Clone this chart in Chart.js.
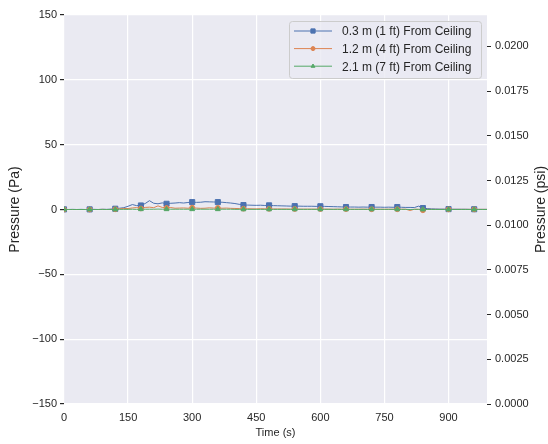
<!DOCTYPE html>
<html>
<head>
<meta charset="utf-8">
<script src="https://cdn.jsdelivr.net/npm/chart.js@4"></script>
<style>
body { margin: 0; background: #ffffff; }
#wrap { width: 548px; height: 444px; }
</style>
</head>
<body>
<div id="wrap"><canvas id="myChart"></canvas></div>
<script>
/* Data: time in s, pressure in Pa (10 s steps) */
var timeS = [0,10,20,30,40,50,60,70,80,90,100,110,120,130,140,150,160,170,180,190,
200,210,220,230,240,250,260,270,280,290,300,310,320,330,340,350,360,370,380,390,
400,410,420,430,440,450,460,470,480,490,500,510,520,530,540,550,560,570,580,590,
600,610,620,630,640,650,660,670,680,690,700,710,720,730,740,750,760,770,780,790,
800,810,820,830,840,850,860,870,880,890,900,910,920,930,940,950,960,970,980,990];

var p1ft = [0.1,0.0,0.1,0.0,0.1,0.0,0.1,0.1,0.0,0.2,0.1,0.3,0.6,1.0,1.4,2.5,3.8,3.0,3.1,4.6,
6.8,4.8,4.4,5.1,4.4,4.8,5.0,5.3,5.0,5.4,5.7,5.5,5.6,6.0,5.9,5.8,5.7,5.6,5.3,5.0,
4.6,4.0,3.4,3.4,3.3,3.2,3.3,3.1,3.2,3.0,2.9,2.8,2.7,2.6,2.6,2.6,2.5,2.5,2.5,2.4,
2.5,2.4,2.3,2.2,2.1,2.0,1.9,1.9,1.9,1.8,1.9,1.8,1.9,1.8,1.8,1.7,1.8,1.7,1.9,1.7,
1.6,1.6,1.5,2.6,1.1,0.7,0.5,0.4,0.3,0.3,0.3,0.2,0.2,0.2,0.2,0.1,0.2,0.1,0.1,0.1];

var p4ft = [0.0,0.0,0.0,0.0,0.0,0.0,0.0,0.0,0.0,0.1,0.0,0.1,0.2,0.5,0.8,0.7,1.2,1.5,0.8,1.6,
1.8,1.4,2.8,1.6,1.2,1.5,1.0,1.1,1.2,1.0,1.4,1.1,0.9,1.0,1.3,1.1,1.2,1.0,1.1,0.9,
0.8,0.7,0.6,0.6,0.5,0.5,0.6,0.5,0.5,0.4,0.4,0.4,0.4,0.3,0.4,0.3,0.3,0.3,0.3,0.3,
0.3,0.3,0.3,0.2,0.3,0.2,0.3,0.2,0.2,0.2,0.3,0.2,0.2,0.2,0.2,0.2,0.2,0.2,0.2,0.2,
0.2,-0.8,0.2,0.1,-0.6,0.1,0.1,0.1,0.1,0.1,0.1,0.1,0.1,0.1,0.1,0.1,0.1,0.1,0.1,0.1];

var p7ft = [0.0,0.0,0.0,0.0,0.0,0.0,0.0,0.0,0.0,0.0,0.0,0.0,0.0,0.1,0.1,0.1,0.2,0.1,0.2,0.2,
0.2,0.2,0.3,0.2,0.2,0.2,0.2,0.2,0.2,0.2,0.2,0.2,0.2,0.2,0.2,0.2,0.2,0.2,0.2,0.2,
0.1,0.1,0.1,0.1,0.1,0.1,0.1,0.1,0.1,0.1,0.1,0.1,0.1,0.1,0.1,0.1,0.1,0.1,0.1,0.1,
0.1,0.1,0.1,0.1,0.1,0.1,0.1,0.1,0.1,0.1,0.1,0.1,0.1,0.1,0.1,0.1,0.1,0.1,0.1,0.1,
0.1,0.0,0.1,0.1,0.0,0.0,0.0,0.0,0.0,0.0,0.0,0.0,0.0,0.0,0.0,0.0,0.0,0.0,0.0,0.0];

var seriesLabels = ['0.3 m (1 ft) From Ceiling', '1.2 m (4 ft) From Ceiling', '2.1 m (7 ft) From Ceiling'];
var xTicks = [0,150,300,450,600,750,900];
var yTicks = [-150,-100,-50,0,50,100,150];
var psiTicks = [0,0.0025,0.005,0.0075,0.01,0.0125,0.015,0.0175,0.02];

/* helpers */
function toXY(ys) {
    var pts = [];
    for (let i = 0; i < timeS.length; i++) {
        pts.push({x: timeS[i], y: ys[i]});
    }
    return pts;
}
// marker every 60 s
function markEvery(r) {
    return function(ctx) {
        return (timeS[ctx.dataIndex] % 60 === 0) ? r : 0;
    };
}
function minusSign(v) {
    return String(v).replace('-', '\u2212');
}

var textColor = '#262626';
var fontFam = '"Liberation Sans", Arial, sans-serif';

/* plot background + legend + right title */
var seabornPlugin = {
    id: 'seaborn',
    beforeDraw: function(chart) {
        var c = chart.ctx, a = chart.chartArea;
        c.save();
        c.fillStyle = '#EAEAF2';
        c.fillRect(a.left, a.top, a.right - a.left, a.bottom - a.top);
        c.restore();
    },
    afterDraw: function(chart) {
        var c = chart.ctx, a = chart.chartArea;
        c.save();
        // right axis title
        c.fillStyle = textColor;
        c.font = '14px ' + fontFam;
        c.textAlign = 'center';
        c.textBaseline = 'middle';
        c.translate(541, (a.top + a.bottom) / 2);
        c.rotate(-Math.PI / 2);
        c.fillText('Pressure (psi)', 0, 0);
        c.restore();

        // legend box
        c.save();
        var bw = 192, bh = 57;
        var bx = a.right - 6 - bw, by = a.top + 6;
        c.beginPath();
        c.roundRect(bx + 0.5, by + 0.5, bw, bh, 3);
        c.fillStyle = 'rgba(234,234,242,0.8)';
        c.fill();
        c.strokeStyle = '#cccccc';
        c.lineWidth = 1;
        c.stroke();
        var ds = chart.data.datasets;
        for (let i = 0; i < ds.length; i++) {
            var ry = by + 10 + i * 17.6;
            c.beginPath();
            c.moveTo(bx + 5, ry);
            c.lineTo(bx + 43, ry);
            c.strokeStyle = ds[i].borderColor;
            c.lineWidth = 1;
            c.stroke();
            c.fillStyle = ds[i].borderColor;
            c.strokeStyle = ds[i].borderColor;
            Chart.helpers.drawPoint(c, {pointStyle: ds[i].pointStyle, radius: ds[i].legendR, borderWidth: 1, rotation: 0}, bx + 24, ry);
            c.fillStyle = textColor;
            c.font = '12px ' + fontFam;
            c.textAlign = 'left';
            c.textBaseline = 'middle';
            c.fillText(ds[i].label, bx + 53, ry + 1);
        }
        c.restore();
    }
};

var colors = ['#4C72B0', '#DD8452', '#55A868'];

const data = {
    datasets: [
        {
            label: seriesLabels[0],
            data: toXY(p1ft),
            borderColor: colors[0],
            backgroundColor: colors[0],
            borderWidth: 1,
            pointStyle: 'rect',
            pointRadius: markEvery(3.6),
            legendR: 3,
            pointBorderWidth: 1,
            order: 3
        },
        {
            label: seriesLabels[1],
            data: toXY(p4ft),
            borderColor: colors[1],
            backgroundColor: colors[1],
            borderWidth: 1,
            pointStyle: 'circle',
            pointRadius: markEvery(2.4),
            legendR: 2,
            pointBorderWidth: 1,
            order: 2
        },
        {
            label: seriesLabels[2],
            data: toXY(p7ft),
            borderColor: colors[2],
            backgroundColor: colors[2],
            borderWidth: 1,
            pointStyle: 'triangle',
            pointRadius: markEvery(2.8),
            legendR: 2.2,
            pointBorderWidth: 1,
            order: 1
        }
    ]
};

const config = {
    type: 'line',
    data: data,
    plugins: [seabornPlugin],
    options: {
        responsive: true,
        maintainAspectRatio: false,
        animation: false,
        events: [],
        layout: { padding: { top: 15, left: 0, right: 0, bottom: 0 } },
        plugins: { legend: { display: false }, tooltip: { enabled: false } },
        elements: { line: { tension: 0 }, point: { hoverRadius: 0 } },
        scales: {
            x: {
                type: 'linear',
                min: 0,
                max: 990,
                afterBuildTicks: function(s) { s.ticks = xTicks.map(function(v) { return {value: v}; }); },
                afterFit: function(s) { s.height = 40; },
                grid: { color: '#ffffff', lineWidth: 1.2, drawTicks: false },
                border: { display: false },
                ticks: { color: textColor, font: { size: 11, family: fontFam }, padding: 7, maxRotation: 0 },
                title: { display: true, text: 'Time (s)', color: textColor, font: { size: 11, family: fontFam }, padding: { top: 0, bottom: 4 } }
            },
            y: {
                position: 'left',
                min: -150,
                max: 150,
                afterBuildTicks: function(s) { s.ticks = yTicks.map(function(v) { return {value: v}; }); },
                afterFit: function(s) { s.width = 64; },
                grid: { color: '#ffffff', lineWidth: 1.2, drawTicks: true, tickLength: 4, tickColor: textColor },
                border: { display: false },
                ticks: { color: textColor, font: { size: 11, family: fontFam }, padding: 3, callback: function(v) { return minusSign(v); } },
                title: { display: true, text: 'Pressure (Pa)', color: textColor, font: { size: 14, family: fontFam }, padding: { top: 7, bottom: 0 } }
            },
            y2: {
                position: 'right',
                min: 0,
                max: 0.021756,
                afterBuildTicks: function(s) { s.ticks = psiTicks.map(function(v) { return {value: v}; }); },
                afterFit: function(s) { s.width = 61; },
                grid: { drawOnChartArea: false, drawTicks: true, tickLength: 4, tickColor: textColor },
                border: { display: false },
                ticks: { color: textColor, font: { size: 11, family: fontFam }, padding: 4, callback: function(v) { return v.toFixed(4); } }
            }
        }
    }
};

var myChart = new Chart(document.getElementById('myChart'), config);
</script>
</body>
</html>
